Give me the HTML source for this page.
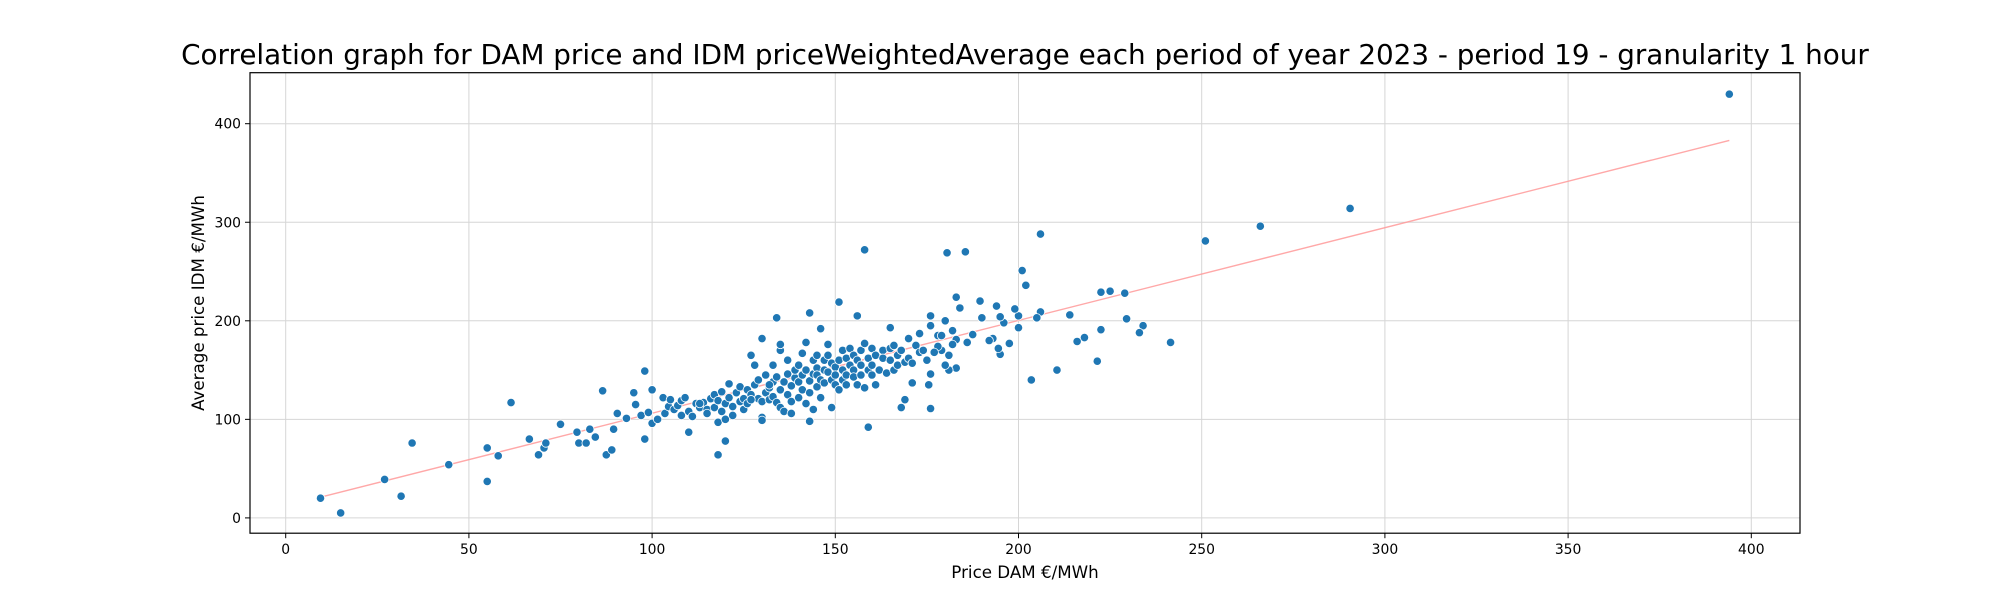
<!DOCTYPE html>
<html><head><meta charset="utf-8"><style>
html,body{margin:0;padding:0;background:#fff;}
svg{display:block;font-family:"DejaVu Sans","Liberation Sans",sans-serif;}
</style></head><body>
<svg id="chart" width="2000" height="600" viewBox="0 0 2000 600">
<text x="1025" y="64" text-anchor="middle" font-size="27.8" fill="#000">Correlation graph for DAM price and IDM priceWeightedAverage each period of year 2023 - period 19 - granularity 1 hour</text>
<g id="grid"></g>
<g id="reg"></g>
<g id="pts"></g>
<g id="axes"></g>
<text x="1025" y="578" text-anchor="middle" font-size="16.7">Price DAM €/MWh</text>
<text transform="translate(204,303) rotate(-90)" text-anchor="middle" font-size="16.7">Average price IDM €/MWh</text>
</svg>
<script>
const xTicks=[0,50,100,150,200,250,300,350,400];
const yTicks=[0,100,200,300,400];
const lineX=[9.5,394];
const lineY=[21,383];
const damPrice=[9.5,15,27,31.5,34.5,44.5,55,55,58,61.5,66.5,69,70.5,71,75,79.5,80,82,83,84.5,86.5,87.5,89,89.5,90.5,93,95,95.5,97,98,98,99,100,100,101.5,103,103.5,104.5,105,
106,107,108,108,109,110,110,111,112,113,114,115,115,116,117,117,118,118,118,119,119,120,120,120,121,121,122,122,123,124,124,125,125,126,126,127,127,128,128,129,129,130,130,130,130,131,131,132,132,133,133,133,134,134,134,135,135,135,135,136,136,137,137,138,138,138,139,139,140,140,140,141,141,141,142,142,142,143,143,143,143,144,144,144,145,145,145,146,146,146,147,147,147,148,148,148,149,149,149,150,150,150,151,151,151,152,152,152,153,153,154,154,155,155,155,156,156,156,157,157,157,158,158,158,159,159,159,160,160,161,161,162,163,163,164,165,165,165,166,167,167,168,168,169,169,170,170,171,172,173,173,174,175,
113,127,132,137,145,153,160,166,171,178,181,
394,290.5,266,251,241.5,234,233,229.5,229,225,222.5,222.5,221.5,218,216,214,210.5,206,206,205,203.5,202,201,200,200,199,197.5,196,195,195,194.5,194,193,192,190,189.5,187.5,186,185.5,184,183,183,183,182,182,181,180.5,180,180,179,179,178,177,176,176,176,175.5,176];
const idmPrice=[20,5,39,22,76,54,71,37,63,117,80,64,71,76,95,87,76,76,90,82,129,64,69,90,106,101,127,115,104,149,80,107,130,96,100,122,106,113,120,
110,114,104,119,122,87,108,103,116,112,117,110,106,121,112,125,97,119,64,108,128,116,78,100,136,122,113,104,127,118,133,121,110,130,116,165,125,135,155,121,140,102,99,118,182,127,145,132,120,123,138,155,117,203,143,130,112,170,176,108,138,125,146,134,118,106,142,150,122,138,155,145,130,167,116,178,150,98,139,127,208,110,146,160,133,152,145,192,140,122,160,150,137,176,148,165,112,157,140,153,135,145,219,130,160,150,170,140,162,145,155,172,150,165,143,205,160,135,170,155,145,272,132,177,92,162,150,172,155,165,135,150,170,162,147,172,193,160,150,165,155,170,112,120,158,182,162,137,175,187,168,170,160,
116,120,135,160,165,135,145,175,157,185,165,
430,314,296,281,178,195,188,202,228,230,229,191,159,183,179,206,150,288,209,203,140,236,251,193,205,212,177,198,204,166,172,215,182,180,203,220,186,178,270,213,224,181,152,176,190,150,269,200,155,185,170,174,168,205,195,111,135,146];

const NS='http://www.w3.org/2000/svg';
const L=250,R=1800,T=72.7,B=533.2;
const X=v=>285.7+v*3.664;
const Y=v=>517.9-v*0.9855;
function mk(tag,attrs,parent){const e=document.createElementNS(NS,tag);for(const k in attrs)e.setAttribute(k,attrs[k]);parent.appendChild(e);return e;}
const grid=document.getElementById('grid'),axes=document.getElementById('axes'),pts=document.getElementById('pts'),reg=document.getElementById('reg');
xTicks.forEach(t=>{
 const g=mk('line',{x1:X(t),x2:X(t),y1:T,y2:B,stroke:'#d6d6d6','stroke-width':1},grid);
 
 
 const tk=mk('line',{x1:X(t),x2:X(t),y1:B,y2:B+5,stroke:'#000','stroke-width':1},axes);
 
 
 const tx=mk('text',{x:X(t),y:B+21,'text-anchor':'middle','font-size':13.9},axes);
 tx.textContent=t;
 
 
});
yTicks.forEach(t=>{
 const g=mk('line',{x1:L,x2:R,y1:Y(t),y2:Y(t),stroke:'#d6d6d6','stroke-width':1},grid);
 
 
 const tk=mk('line',{x1:L-5,x2:L,y1:Y(t),y2:Y(t),stroke:'#000','stroke-width':1},axes);
 
 
 const tx=mk('text',{x:L-9,y:Y(t)+5,'text-anchor':'end','font-size':13.9},axes);
 tx.textContent=t;
 
 
});
const fr=mk('rect',{x:L,y:T,width:R-L,height:B-T,fill:'none',stroke:'#000','stroke-width':1.2},axes);


const ln=mk('line',{x1:X(lineX[0]),y1:Y(lineY[0]),x2:X(lineX[1]),y2:Y(lineY[1]),stroke:'#ff9999','stroke-width':1.4,'stroke-opacity':0.85},reg);


damPrice.forEach((d,i)=>{
 const c=mk('circle',{cx:X(d),cy:Y(idmPrice[i]),r:4.2,fill:'#1f77b4',stroke:'#fff','stroke-width':0.8},pts);
 
 
});
</script>
</body></html>
